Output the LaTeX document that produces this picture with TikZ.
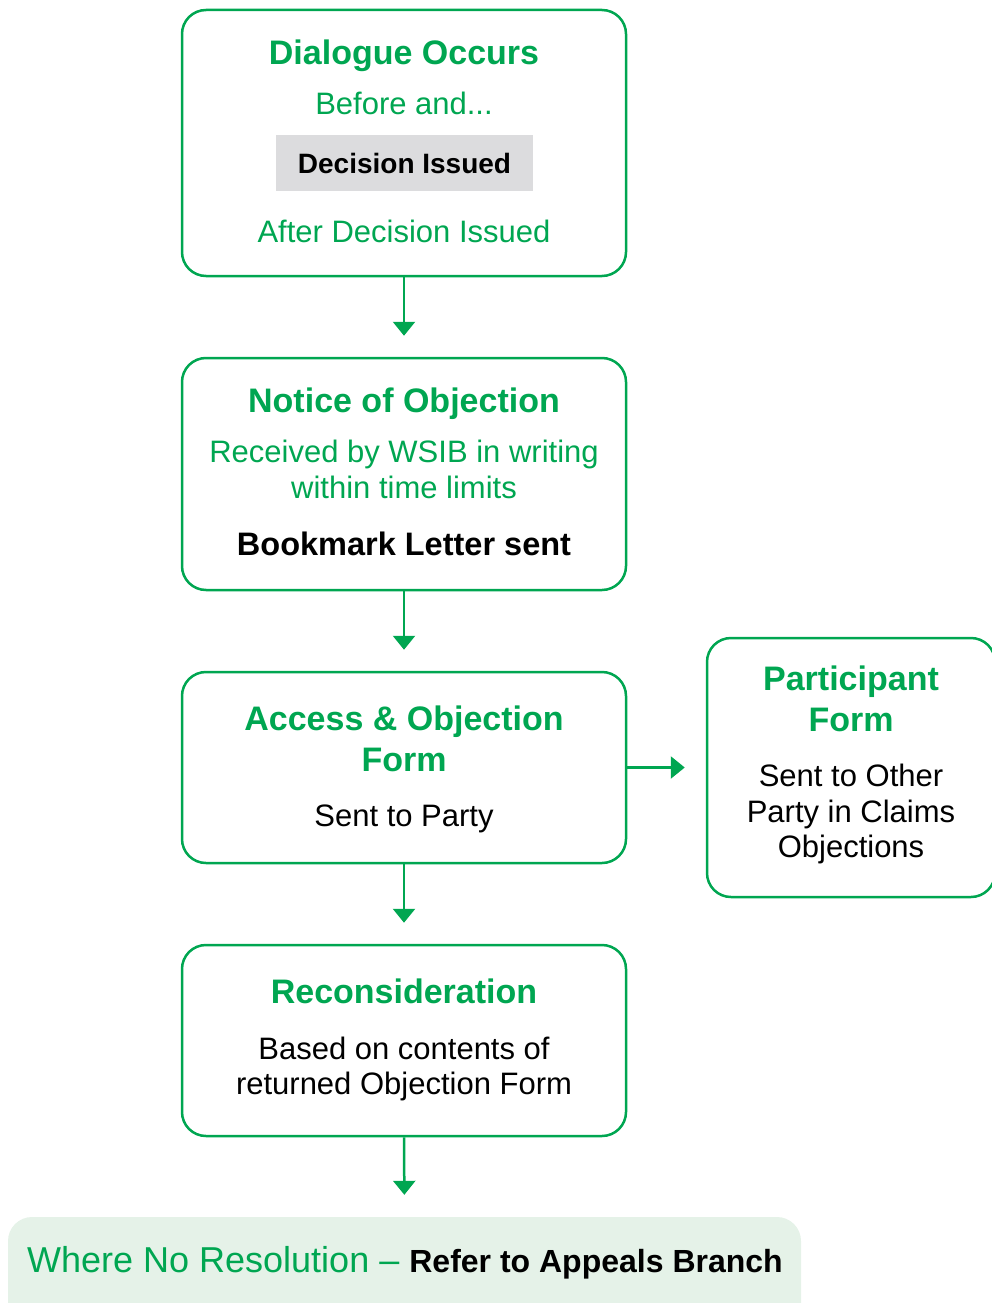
\documentclass[tikz,border=0pt]{standalone}
\usepackage{fontspec}
\setmainfont{Liberation Sans}
\usetikzlibrary{arrows.meta}
\definecolor{wgreen}{RGB}{0,166,81}
\definecolor{lgreen}{RGB}{229,242,232}
\definecolor{lgrey}{RGB}{220,220,222}
\tikzset{
 box/.style={draw=wgreen, line width=2.5pt, rounded corners=24pt, inner sep=0pt, minimum width=444pt},
 ttl/.style={text=wgreen, font=\fontsize{34}{41}\selectfont\bfseries, align=center, inner sep=0pt},
 gtx/.style={text=wgreen, font=\fontsize{31}{36}\selectfont, align=center, inner sep=0pt},
 btx/.style={text=black, font=\fontsize{31}{35.5}\selectfont, align=center, inner sep=0pt},
 arr/.style={draw=wgreen, line width=2.5pt, -{Triangle[width=22pt,length=14pt]}, shorten >=21pt},
}
\begin{document}
\begin{tikzpicture}[x=1pt,y=-1pt]
\clip (0,0) rectangle (992,1303);
% box 1
\node[box, minimum height=266pt] (b1) at (404,143) {};
\node[ttl] (t1) at (404,56) {Dialogue Occurs};
\node[gtx] (s1) at (404,103) {Before and...};
\node[fill=lgrey, minimum width=257pt, minimum height=56pt, inner sep=0pt,
  font=\fontsize{28}{34}\selectfont\bfseries] (dec) at (404.5,163) {Decision Issued};
\node[gtx] (a1) at (404,231) {After Decision Issued};
% box 2
\node[box, minimum height=232pt] (b2) at (404,474) {};
\node[ttl] (t2) at (404,404) {Notice of Objection};
\node[gtx] (s2) at (404,469) {Received by WSIB in writing\\within time limits};
\node[btx, font=\fontsize{32.5}{36}\selectfont\bfseries] (bk) at (404,544) {Bookmark Letter sent};
% box 3
\node[box, minimum height=191pt] (b3) at (404,767.5) {};
\node[ttl] (t3) at (404,739) {Access \& Objection\\Form};
\node[btx] (s3) at (404,819) {Sent to Party};
% box 4
\node[box, minimum width=288pt, minimum height=259pt] (b4) at (851,767.5) {};
\node[ttl] (t4) at (851,699) {Participant\\Form};
\node[btx] (s4) at (851,814) {Sent to Other\\Party in Claims\\Objections};
% box 5
\node[box, minimum height=191pt] (b5) at (404,1040.5) {};
\node[ttl] (t5) at (404,991) {Reconsideration};
\node[btx] (s5) at (404,1069) {Based on contents of\\returned Objection Form};
% bottom
\node[fill=lgreen, rounded corners=24pt, minimum width=793pt, minimum height=113pt, inner sep=0pt] (b6) at (404.5,1273.5) {};
\node[inner sep=0pt] (t6) at (405,1263) {{\color{wgreen}\fontsize{36}{40}\selectfont Where No Resolution --\ }{\fontsize{32}{38}\selectfont\bfseries Refer to Appeals Branch}};
% arrows
\draw[arr] (b1.south) -- (b2.north);
\draw[arr] (b2.south) -- (b3.north);
\draw[arr] (b3.south) -- (b5.north);
\draw[arr] (b3.east) -- (b4.west);
\draw[arr, shorten >=22pt] (b5.south) -- (b6.north);
\end{tikzpicture}
\end{document}
